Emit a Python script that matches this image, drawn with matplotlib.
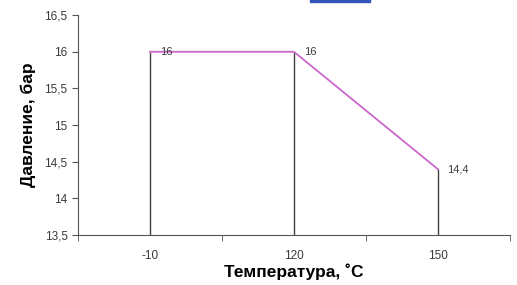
import numpy as np
import matplotlib.pyplot as plt
from matplotlib.patches import Rectangle

plt.rcParams['font.family'] = ['Liberation Sans', 'DejaVu Sans']

# data
temps = ['-10', '120', '150']
pressure = [16, 16, 14.4]
point_labels = ['16', '16', '14,4']
y_ticks = [13.5, 14, 14.5, 15, 15.5, 16, 16.5]

x = np.arange(len(temps))

fig = plt.figure(figsize=(5.17, 2.85), dpi=100)
ax = fig.add_axes([0.151, 0.175, 0.835, 0.772])

# drop lines from every point to the axis
ax.vlines(x, y_ticks[0], pressure, color='#404040', lw=1)
ax.plot(x, pressure, color='#cc66cc', lw=1.3)

for xi, yi, lab in zip(x, pressure, point_labels):
    ax.annotate(lab, (xi, yi), xytext=(7, 0), textcoords='offset points',
                va='center', ha='left', fontsize=8, color='#3a3a3a')

ax.set_xlim(-0.5, len(temps) - 0.5)
ax.set_ylim(y_ticks[0], y_ticks[-1])
ax.set_yticks(y_ticks)
ax.set_yticklabels([str(v).replace('.', ',').replace(',0', '') for v in y_ticks])
ax.set_xticks(x)
ax.set_xticklabels(temps)
ax.set_xticks(np.arange(len(temps) + 1) - 0.5, minor=True)
ax.tick_params(axis='x', which='major', length=0, pad=11, labelsize=8.5, labelcolor='#3a3a3a')
ax.tick_params(axis='x', which='minor', length=4, color='#555555')
ax.tick_params(axis='y', length=4, color='#555555', labelsize=8.5, labelcolor='#3a3a3a')

for s in ['top', 'right']:
    ax.spines[s].set_visible(False)
for s in ['left', 'bottom']:
    ax.spines[s].set_color('#555555')

ax.set_ylabel('Давление, бар', fontsize=12.5, fontweight='bold', labelpad=6)
ax.set_xlabel('Температура, ˚C', fontsize=12.5, fontweight='bold', labelpad=1)

# cut-off blue element at the top edge
fig.patches.append(Rectangle((0.6, 0.994), 0.115, 0.01, transform=fig.transFigure,
                             color='#3355bb', zorder=5))

fig.savefig('out.png', dpi=100)
